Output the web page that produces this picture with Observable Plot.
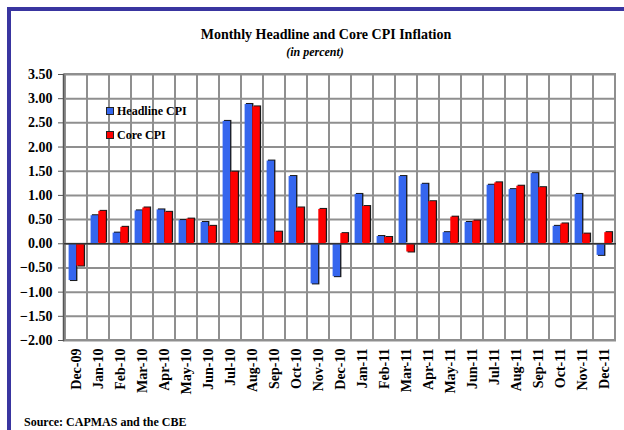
<!DOCTYPE html>
<html>
<head>
<meta charset="utf-8">
<script src="https://cdn.jsdelivr.net/npm/d3@7"></script>
<script src="https://cdn.jsdelivr.net/npm/@observablehq/plot@0.6"></script>
<style>
  html, body { margin: 0; padding: 0; background: #fff; }
  #wrap { position: relative; width: 624px; height: 430px; overflow: hidden; font-family: "Liberation Serif", "Times New Roman", serif; font-weight: bold; color: #000; }
  #wrap svg { position: absolute; left: 0; top: 0; }
  .frame-top { position: absolute; left: 7px; top: 7px; width: 617px; height: 4px; background: #3935a0; }
  .frame-left { position: absolute; left: 7px; top: 7px; width: 4px; height: 423px; background: #3935a0; }
  .title { position: absolute; left: 0; width: 652px; top: 27px; text-align: center; font-size: 14px; }
  .subtitle { position: absolute; left: 0; width: 630px; top: 45px; text-align: center; font-size: 12px; font-style: italic; }
  .legend { position: absolute; left: 106px; font-size: 12px; line-height: 14px; }
  .legend span.sw { display: inline-block; width: 6px; height: 6px; border: 0.5px solid #222; margin-right: 3px; vertical-align: 0px; }
  .source { position: absolute; left: 24px; top: 415px; font-size: 12px; }
</style>
</head>
<body>
<div id="wrap">
  <div class="frame-top"></div>
  <div class="frame-left"></div>
  <div class="title">Monthly Headline and Core CPI Inflation</div>
  <div class="subtitle">(in percent)</div>
  <div class="source">Source: CAPMAS and the CBE</div>
</div>
<script>
const months = ["Dec-09","Jan-10","Feb-10","Mar-10","Apr-10","May-10","Jun-10","Jul-10","Aug-10","Sep-10","Oct-10","Nov-10","Dec-10",
  "Jan-11","Feb-11","Mar-11","Apr-11","May-11","Jun-11","Jul-11","Aug-11","Sep-11","Oct-11","Nov-11","Dec-11"];
const headline = [-0.76,0.58,0.22,0.68,0.70,0.48,0.44,2.53,2.88,1.71,1.39,-0.83,-0.68,
  1.02,0.15,1.39,1.23,0.23,0.44,1.21,1.12,1.45,0.36,1.02,-0.24];
const core = [-0.46,0.67,0.34,0.74,0.65,0.51,0.36,1.48,2.83,0.24,0.74,0.71,0.21,
  0.77,0.13,-0.17,0.87,0.55,0.47,1.26,1.19,1.16,0.41,0.20,0.23];
const yTicks = [-2,-1.5,-1,-0.5,0,0.5,1,1.5,2,2.5,3,3.5];
const seriesNames = ["Headline CPI","Core CPI"];
const seriesColors = ["#3566ee","#ff0000"];

const headRows = months.map((m,i) => ({month: m, value: headline[i]}));
const coreRows = months.map((m,i) => ({month: m, value: core[i]}));

const gridColor = "#8f8f8f";
const shadow = "#1a1a1a";

function barsFor(rows, color, il, ir) {
  const pos = rows.filter(d => d.value >= 0), neg = rows.filter(d => d.value < 0);
  return [
    Plot.barY(pos, {x: "month", y: "value", fill: shadow, insetLeft: il, insetRight: ir, dx: 1.3, dy: -1}),
    Plot.barY(neg, {x: "month", y: "value", fill: shadow, insetLeft: il, insetRight: ir, dx: 1.3, dy: 1}),
    Plot.barY(rows, {x: "month", y: "value", fill: color, insetLeft: il, insetRight: ir})
  ];
}

const chart = Plot.plot({
  width: 624,
  height: 430,
  marginTop: 74,
  marginBottom: 90,
  marginLeft: 63,
  marginRight: 8,
  style: {fontFamily: "'Liberation Serif', 'Times New Roman', serif", fontWeight: "bold", fontSize: "13px", color: "#000", background: "transparent"},
  x: {type: "band", domain: months, padding: 0, label: null},
  y: {domain: [-2, 3.5], label: null},
  marks: [
    Plot.gridY(yTicks, {stroke: gridColor, strokeWidth: 2, strokeOpacity: 1}),
    Plot.barY(months, {x: d => d, y1: -2, y2: 3.5, fill: "none", stroke: gridColor, strokeWidth: 2}),
    ...barsFor(headRows, seriesColors[0], 3.6, 10.9),
    ...barsFor(coreRows, seriesColors[1], 11.3, 3.2),
    Plot.ruleY([0], {stroke: "#333", strokeWidth: 1.5}),
    Plot.frame({anchor: "left", stroke: "#555", strokeWidth: 1.5}),
    Plot.axisY(yTicks, {tickFormat: d3.format(".2f"), tickSize: 5, tickPadding: 6, fontSize: 14, stroke: "#555", label: null}),
    Plot.axisX({tickRotate: -90, tickSize: 0, tickPadding: 8, fontSize: 14, label: null})
  ]
});

const wrap = document.getElementById("wrap");
wrap.insertBefore(chart, wrap.firstChild);

// legend
seriesNames.forEach((name, i) => {
  const div = document.createElement("div");
  div.className = "legend";
  div.style.top = (104 + i * 24) + "px";
  div.innerHTML = `<span class="sw" style="background:${seriesColors[i]}"></span>${name}`;
  wrap.appendChild(div);
});
</script>
</body>
</html>
